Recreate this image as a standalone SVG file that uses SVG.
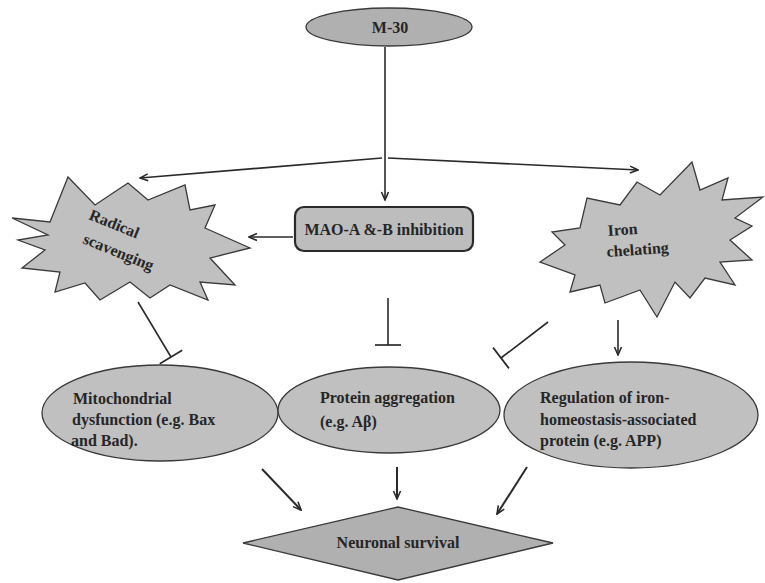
<svg xmlns="http://www.w3.org/2000/svg" width="765" height="583" viewBox="0 0 765 583">
<defs>
<style>
.shape{fill:#c0c0c0;stroke:#3a3a3a;stroke-width:1.3}
.dark{fill:#b0b0b0}
.box{fill:#bdbdbd;stroke:#2a2a2a;stroke-width:2.2}
.txt{font-family:"Liberation Serif","Times New Roman",serif;font-size:16px;font-weight:bold;fill:#262626}
.c{text-anchor:middle}
.ln{fill:none;stroke:#2a2a2a;stroke-width:1.6}
.thick{stroke-width:2}
</style>
<marker id="arr" viewBox="0 0 10 10" refX="9" refY="5" markerUnits="userSpaceOnUse" markerWidth="10" markerHeight="10" orient="auto">
<path d="M1,1.5 L9,5 L1,8.5" fill="none" stroke="#2a2a2a" stroke-width="1.6"/>
</marker>
<marker id="tee" viewBox="0 0 10 30" refX="5" refY="15" markerUnits="userSpaceOnUse" markerWidth="10" markerHeight="28" orient="auto">
<path d="M5,1 L5,29" fill="none" stroke="#2a2a2a" stroke-width="1.8"/>
</marker>
</defs>
<rect width="765" height="583" fill="#ffffff"/>

<g id="connectors">
<line class="ln" x1="385" y1="47" x2="385" y2="200" marker-end="url(#arr)"/>
<line class="ln" x1="382" y1="158" x2="140" y2="178" marker-end="url(#arr)"/>
<line class="ln" x1="388" y1="158" x2="638" y2="170" marker-end="url(#arr)"/>
<line class="ln" x1="293" y1="237" x2="249" y2="237" marker-end="url(#arr)"/>
<line class="ln" x1="138" y1="302" x2="171" y2="357" marker-end="url(#tee)"/>
<line class="ln" x1="388" y1="298" x2="388" y2="345" marker-end="url(#tee)"/>
<line class="ln" x1="548" y1="322" x2="501" y2="358" marker-end="url(#tee)"/>
<line class="ln" x1="618" y1="320" x2="618" y2="355" marker-end="url(#arr)"/>
<line class="ln thick" x1="262" y1="469" x2="301" y2="510" marker-end="url(#arr)"/>
<line class="ln thick" x1="397" y1="467" x2="397" y2="499" marker-end="url(#arr)"/>
<line class="ln thick" x1="527" y1="467" x2="497" y2="514" marker-end="url(#arr)"/>
</g>

<g id="m30">
<ellipse class="shape dark" cx="389" cy="27" rx="83" ry="19"/>
<text class="txt c" x="390" y="33" font-size="17">M-30</text>
</g>

<g id="mao">
<rect class="box" x="295" y="207" width="178" height="44" rx="9"/>
<text class="txt c" x="384" y="235" font-size="16">MAO-A &amp;-B inhibition</text>
</g>

<g id="radical">
<polygon class="shape" points="12,218 50,222 68,177 95,205 128,183 148,200 185,185 190,210 215,205 205,228 250,248 210,258 235,285 200,282 208,300 170,285 150,298 130,282 100,300 85,283 55,292 60,272 22,268 45,250 18,240 48,235"/>
<text class="txt" font-size="15" transform="translate(88,219) rotate(22)">Radical</text>
<text class="txt" font-size="15" transform="translate(82,243) rotate(22)">scavenging</text>
</g>

<g id="iron">
<polygon class="shape" points="540,262 565,245 552,232 580,228 587,198 620,205 637,182 660,195 692,162 700,190 728,178 722,200 763,197 735,218 752,226 730,240 752,260 720,262 735,285 705,278 690,298 675,282 657,317 640,290 605,303 600,285 570,292 575,275"/>
<text class="txt" font-size="15" transform="translate(608,236) rotate(-4)">Iron</text>
<text class="txt" font-size="15" transform="translate(607,257) rotate(-4)">chelating</text>
</g>

<g id="mito">
<ellipse class="shape" cx="160" cy="413" rx="118" ry="48"/>
<text class="txt" x="73" y="404">Mitochondrial</text>
<text class="txt" x="72" y="425">dysfunction (e.g. Bax</text>
<text class="txt" x="71" y="446">and Bad).</text>
</g>

<g id="protein">
<ellipse class="shape" cx="389" cy="410" rx="111" ry="43"/>
<text class="txt" x="320" y="403">Protein aggregation</text>
<text class="txt" x="320" y="427">(e.g. Aβ)</text>
</g>

<g id="regulation">
<ellipse class="shape" cx="631" cy="415" rx="127" ry="53"/>
<text class="txt" x="540" y="403">Regulation of iron-</text>
<text class="txt" x="540" y="425">homeostasis-associated</text>
<text class="txt" x="540" y="446">protein (e.g. APP)</text>
</g>

<g id="survival">
<polygon class="shape dark" points="243,543 398,507 553,543 398,580"/>
<text class="txt c" x="398" y="548" font-size="15">Neuronal survival</text>
</g>
</svg>
